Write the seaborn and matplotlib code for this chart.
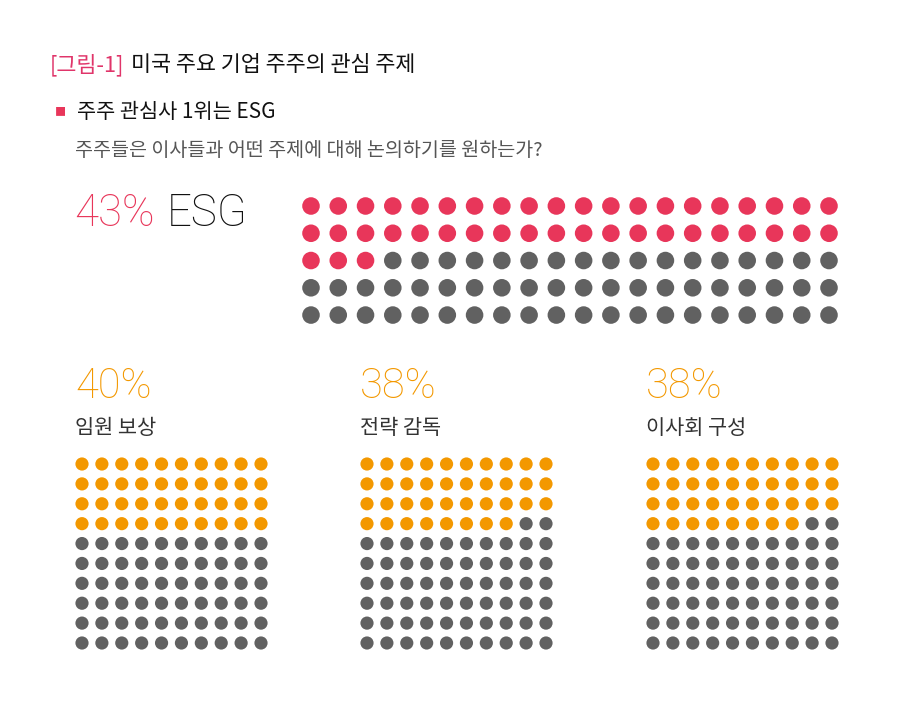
import numpy as np
import pandas as pd
import seaborn as sns
import matplotlib.pyplot as plt

# chart values
title_tag = "[그림-1]"
title_text = "미국 주요 기업 주주의 관심 주제"
subtitle = "주주 관심사 1위는 ESG"
question = "주주들은 이사들과 어떤 주제에 대해 논의하기를 원하는가?"

top_label = "ESG"
top_pct = 43

bottom_labels = ["임원 보상", "전략 감독", "이사회 구성"]
bottom_pcts = [40, 38, 38]

RED = "#e8365a"
ORANGE = "#f39800"
GRAY = "#616161"
NUM_FONT = ['Roboto', 'DejaVu Sans']

sns.set_theme(style="white")
plt.rcParams['font.family'] = ['Noto Sans CJK KR', 'DejaVu Sans']

W, H = 912, 714
fig = plt.figure(figsize=(W / 100, H / 100), dpi=100)
fig.patch.set_facecolor("white")


def px(x, y):
    return x / W, 1 - y / H


def waffle(rect, pct, ncols, nrows, color, size):
    # grid of 100 cells, filled from the top-left
    idx = np.arange(ncols * nrows)
    df = pd.DataFrame({
        'col': idx % ncols,
        'row': idx // ncols,
        'state': np.where(idx < pct, 'on', 'off'),
    })
    left, top, w, h = rect
    ax = fig.add_axes([left / W, 1 - (top + h) / H, w / W, h / H])
    sns.scatterplot(data=df, x='col', y='row', hue='state',
                    palette={'on': color, 'off': GRAY}, s=size,
                    linewidth=0, legend=False, ax=ax)
    ax.set_xlim(-0.5, ncols - 0.5)
    ax.set_ylim(nrows - 0.5, -0.5)
    ax.set_axis_off()
    return ax


# title block
t = fig.text(*px(50, 65), title_tag, color="#e0356a", fontsize=15.7,
             va='center', ha='left')
fig.canvas.draw()
bb = t.get_window_extent()
fig.text(bb.x1 / W + 7 / W, 1 - 65 / H, title_text, color="#111111",
         fontsize=15.7, fontweight='medium', va='center', ha='left')

fig.text(*px(55, 112), "■", color="#e8365a", fontsize=8, va='center', ha='left')
fig.text(*px(77, 112), subtitle, color="#111111", fontsize=15,
         fontweight='medium', va='center', ha='left')
fig.text(*px(75, 150), question, color="#555555", fontsize=14.1,
         va='center', ha='left')

# top headline
p = fig.text(*px(74, 214), f"{top_pct}%", color=RED, fontsize=31.5,
             family=NUM_FONT, fontweight='light', va='center', ha='left')
fig.canvas.draw()
bb = p.get_window_extent()
fig.text(bb.x1 / W + 12 / W, 1 - 214 / H, top_label, color="#111111", fontsize=31.5,
         family=NUM_FONT, fontweight='light', va='center', ha='left')

# top waffle: 5 rows x 20 cols
sp = (829 - 311) / 19
waffle((311 - sp / 2, 206 - sp / 2, sp * 20, sp * 5), top_pct, 20, 5, RED, 160)

# bottom waffles: 10 x 10
lefts = [82, 367, 653]
sp2 = (643 - 464) / 9
for x0, lab, pct in zip(lefts, bottom_labels, bottom_pcts):
    tx = x0 - 7
    fig.text(*px(tx, 386), f"{pct}%", color=ORANGE, fontsize=30,
             family=NUM_FONT, fontweight='light', va='center', ha='left')
    fig.text(*px(tx, 428), lab, color="#333333", fontsize=15,
             va='center', ha='left')
    waffle((x0 - sp2 / 2, 464 - sp2 / 2, sp2 * 10, sp2 * 10), pct, 10, 10,
           ORANGE, 90)

fig.savefig("out.png", dpi=100, facecolor="white")
